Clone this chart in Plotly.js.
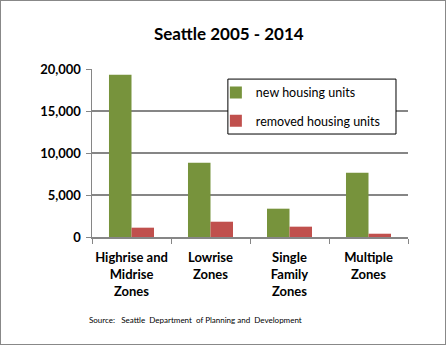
<!DOCTYPE html>
<html><head><meta charset="utf-8">
<script src="https://cdn.plot.ly/plotly-3.0.1.min.js"></script>
<style>
html,body{margin:0;padding:0;background:#fff;}
#wrap{position:relative;width:446px;height:345px;}
#chart{width:446px;height:345px;}
#frame{position:absolute;left:0;top:0;width:444px;height:343px;border:1px solid #888;pointer-events:none;}
</style></head>
<body>
<div id="wrap"><div id="chart"></div><div id="frame"></div></div>
<script>
const categories = ["Highrise and<br>Midrise<br>Zones", "Lowrise<br>Zones", "Single<br>Family<br>Zones", "Multiple<br>Zones"];
const newUnits = [19320, 8850, 3370, 7650];
const removedUnits = [1110, 1820, 1230, 390];
const yTicks = [0, 5000, 10000, 15000, 20000];
const yTickLabels = ["0", "5,000", "10,000", "15,000", "20,000"];
const FONT = "Lato, 'Open Sans', sans-serif";

const traces = [
  {type: "bar", name: "new housing units", x: categories, y: newUnits,
   marker: {color: "#77933C"}, legendgroup: "a"},
  {type: "bar", name: "removed housing units", x: categories, y: removedUnits,
   marker: {color: "#C0504D"}, legendgroup: "b"}
];

const layout = {
  width: 446, height: 345,
  margin: {l: 92, r: 38, t: 69, b: 108},
  paper_bgcolor: "#fff", plot_bgcolor: "#fff",
  title: {text: "<b>Seattle 2005 - 2014</b>", x: 0.513, xanchor: "center", y: 0.9, yanchor: "middle",
          font: {family: FONT, size: 17, color: "#000"}},
  barmode: "group", bargap: 0.43, bargroupgap: 0,
  xaxis: {
    type: "category", tickson: "boundaries", ticks: "outside", ticklen: 5, tickcolor: "#868686",
    showline: true, linecolor: "#868686", linewidth: 1.5, tickangle: 0,
    tickfont: {family: FONT, size: 13, color: "#000", weight: "bold"},
    ticklabelstandoff: 8,
    showgrid: false, fixedrange: true
  },
  yaxis: {
    range: [0, 20000], tickvals: yTicks, ticktext: yTickLabels,
    ticks: "outside", ticklen: 5, tickcolor: "#868686",
    showline: true, linecolor: "#868686", linewidth: 1.5,
    showgrid: true, gridcolor: "#868686", gridwidth: 1.5, zeroline: false,
    tickfont: {family: FONT, size: 13, color: "#000", weight: "bold"},
    ticklabelstandoff: 2
  },
  legend: {
    x: 0.392, y: 0.947, xanchor: "left", yanchor: "top",
    bgcolor: "rgba(0,0,0,0)", borderwidth: 0,
    font: {family: FONT, size: 12.5, color: "#000"},
    traceorder: "grouped", tracegroupgap: 9, itemwidth: 30
  },
  shapes: [{
    type: "rect", xref: "paper", yref: "paper",
    x0: 0.430, x1: 0.962, y0: 0.613, y1: 0.940,
    line: {color: "#000", width: 1}, fillcolor: "#fff", layer: "above"
  }],
  annotations: [{
    text: "Source:   Seattle  Department  of Planning and  Development",
    xref: "paper", yref: "paper", x: -0.015, y: -0.494, xanchor: "left", yanchor: "middle",
    showarrow: false, font: {family: FONT, size: 8, color: "#000"}
  }],
  showlegend: true
};

Plotly.newPlot("chart", traces, layout, {staticPlot: true});
</script>
</body></html>
